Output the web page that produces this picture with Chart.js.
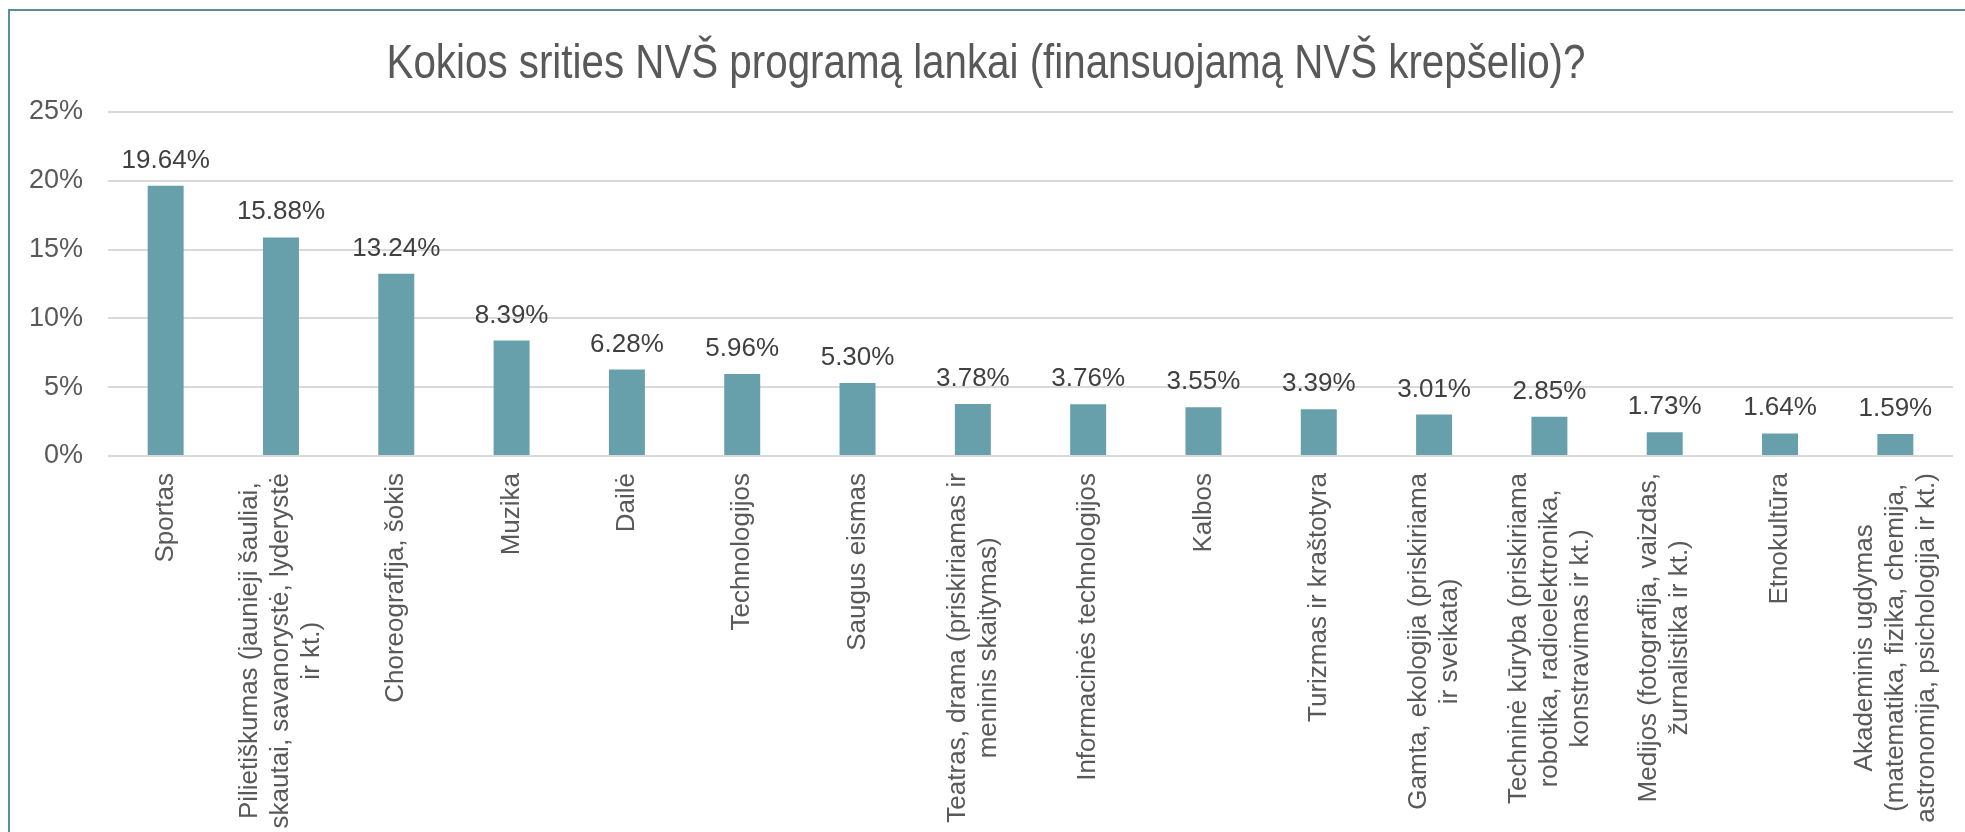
<!DOCTYPE html>
<html lang="lt">
  <head>
    <meta charset="UTF-8" />
    <title>Kokios srities NVŠ programą lankai</title>
    <script src="https://cdn.jsdelivr.net/npm/chart.js"></script>
    <style>
      body {
        margin: 0;
        background: #fff;
        overflow: hidden;
      }
      #wrap {
        position: relative;
        width: 1965px;
        height: 832px;
        overflow: hidden;
      }
      #frame {
        position: absolute;
        left: 8px;
        top: 9px;
        width: 2100px;
        height: 900px;
        border-left: 2px solid #5a8f99;
        border-top: 2px solid #5a8f99;
        pointer-events: none;
      }
    </style>
  </head>
  <body>
    <div id="wrap">
      <canvas id="myChart"></canvas>
      <div id="frame"></div>
    </div>

    <script>
      const titleText = "Kokios srities NVŠ programą lankai (finansuojamą NVŠ krepšelio)?";

      const categories = [
        ["Sportas"],
        ["Pilietiškumas (jaunieji šauliai,", "skautai, savanorystė, lyderystė", "ir kt.)"],
        ["Choreografija, šokis"],
        ["Muzika"],
        ["Dailė"],
        ["Technologijos"],
        ["Saugus eismas"],
        ["Teatras, drama (priskiriamas ir", "meninis skaitymas)"],
        ["Informacinės technologijos"],
        ["Kalbos"],
        ["Turizmas ir kraštotyra"],
        ["Gamta, ekologija (priskiriama", "ir sveikata)"],
        ["Techninė kūryba (priskiriama", "robotika, radioelektronika,", "konstravimas ir kt.)"],
        ["Medijos (fotografija, vaizdas,", "žurnalistika ir kt.)"],
        ["Etnokultūra"],
        ["Akademinis ugdymas", "(matematika, fizika, chemija,", "astronomija, psichologija ir kt.)"],
      ];

      const shares = [19.64, 15.88, 13.24, 8.39, 6.28, 5.96, 5.3, 3.78, 3.76, 3.55, 3.39, 3.01, 2.85, 1.73, 1.64, 1.59];

      const yTicks = [0, 5, 10, 15, 20, 25];

      const labelFont = "26px 'Liberation Sans', Arial, sans-serif";

      // pavadinimas (siauresnis šriftas, todėl suspaudžiam horizontaliai)
      const condensedTitle = {
        id: "condensedTitle",
        afterDraw(chart) {
          const ctx = chart.ctx;
          ctx.save();
          ctx.font = "48px 'Liberation Sans', Arial, sans-serif";
          ctx.fillStyle = "#595959";
          ctx.textAlign = "center";
          ctx.textBaseline = "alphabetic";
          ctx.translate(986, 78);
          ctx.scale(0.84, 1);
          ctx.fillText(titleText, 0, 0);
          ctx.restore();
        },
      };

      // reikšmės virš stulpelių
      const valueLabels = {
        id: "valueLabels",
        afterDatasetsDraw(chart) {
          const ctx = chart.ctx;
          const meta = chart.getDatasetMeta(0);
          ctx.save();
          ctx.font = labelFont;
          ctx.fillStyle = "#404040";
          ctx.textAlign = "center";
          ctx.textBaseline = "alphabetic";
          meta.data.forEach((bar, i) => {
            ctx.fillText(shares[i].toFixed(2) + "%", bar.x, bar.y - 18);
          });
          ctx.restore();
        },
      };

      // pasukti kategorijų pavadinimai, eilutės centruotos
      const rotatedLabels = {
        id: "rotatedLabels",
        afterDraw(chart) {
          const ctx = chart.ctx;
          const xs = chart.scales.x;
          const top = chart.chartArea.bottom + 17;
          const lineH = 31;
          ctx.save();
          ctx.font = labelFont;
          ctx.fillStyle = "#595959";
          ctx.textAlign = "center";
          ctx.textBaseline = "middle";
          categories.forEach((lines, i) => {
            const maxW = Math.max(...lines.map((l) => ctx.measureText(l).width));
            ctx.save();
            ctx.translate(xs.getPixelForValue(i), top + maxW / 2);
            ctx.rotate(-Math.PI / 2);
            lines.forEach((line, j) => {
              ctx.fillText(line, 0, (j - (lines.length - 1) / 2) * lineH);
            });
            ctx.restore();
          });
          ctx.restore();
        },
      };

      const ctx = document.getElementById("myChart");
      new Chart(ctx, {
        type: "bar",
        data: {
          labels: categories.map((c) => c.join(" ")),
          datasets: [
            {
              data: shares,
              backgroundColor: "#67a0aa",
              categoryPercentage: 1,
              barPercentage: 0.312,
            },
          ],
        },
        options: {
          responsive: true,
          maintainAspectRatio: false,
          animation: false,
          layout: { padding: { left: 0, right: 12, top: 112, bottom: 0 } },
          plugins: {
            legend: { display: false },
            tooltip: { enabled: false },
            title: { display: false },
          },
          scales: {
            x: {
              grid: { display: false },
              border: { display: false },
              ticks: { display: false },
              afterFit: (s) => {
                s.height = 376;
              },
            },
            y: {
              min: 0,
              max: 25,
              afterBuildTicks: (s) => {
                s.ticks = yTicks.map((v) => ({ value: v }));
              },
              afterFit: (s) => {
                s.width = 108;
              },
              grid: { color: "#d9d9d9", lineWidth: 2, drawTicks: false },
              border: { display: false },
              ticks: {
                padding: 25,
                color: "#595959",
                font: { family: "'Liberation Sans', Arial", size: 27 },
                callback: (v) => v + "%",
              },
            },
          },
        },
        plugins: [condensedTitle, valueLabels, rotatedLabels],
      });
    </script>
  </body>
</html>
